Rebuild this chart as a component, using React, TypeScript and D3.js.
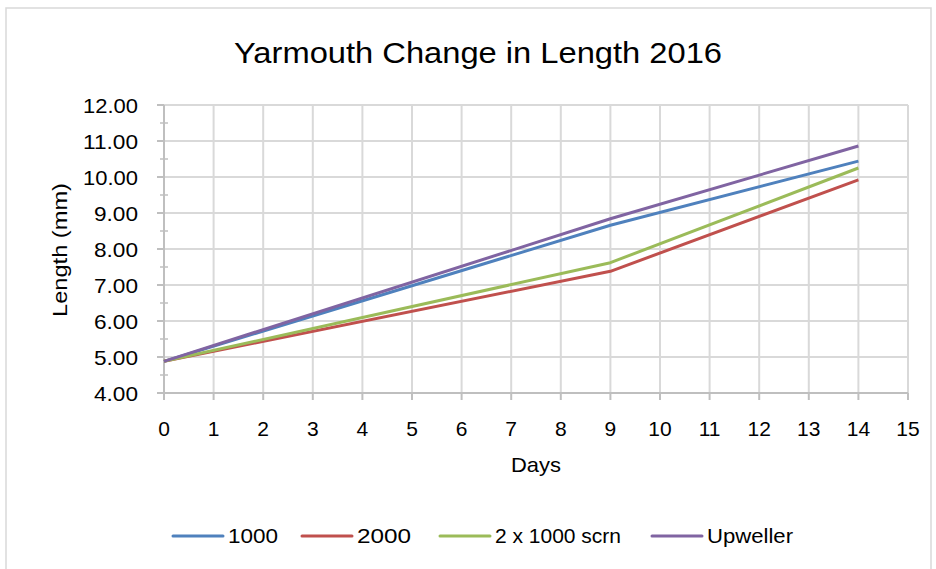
import React from 'react';
import { scaleLinear, line, range } from 'd3';

// chart values
const days = [0, 9, 14];
const series1000 = [4.88, 8.66, 10.44];
const series2000 = [4.88, 7.38, 9.92];
const seriesScrn = [4.88, 7.62, 10.25];
const seriesUpweller = [4.88, 8.84, 10.86];

const seriesNames = ['1000', '2000', '2 x 1000 scrn', 'Upweller'];
const seriesColors = ['#4F81BD', '#C0504D', '#9BBB59', '#8064A2'];
const yTicks = [4, 5, 6, 7, 8, 9, 10, 11, 12];
const xTicks = range(0, 16);

const W = 936;
const H = 569;
const font = "'Liberation Sans', Arial, sans-serif";

// legend layout: [line start, text width]
const legendPos = [[173, 50], [302, 54], [440, 126], [652, 86]];

export default function App() {
  const x = scaleLinear().domain([0, 15]).range([164, 908]);
  const y = scaleLinear().domain([4, 12]).range([393, 105]);

  const allSeries = [series1000, series2000, seriesScrn, seriesUpweller];
  const path = line<number>()
    .x((d, i) => x(days[i]))
    .y(d => y(d));

  const minor = range(4.5, 12, 1);

  return (
    <svg width={W} height={H} style={{ position: 'absolute', left: 0, top: 0, background: '#fff' }}>
      <rect x={6} y={8} width={925} height={580} fill="#fff" stroke="#d9d9d9" strokeWidth={1.5} />

      <text x={478} y={63} textAnchor="middle" fontFamily={font} fontSize={29}
        textLength={488} lengthAdjust="spacingAndGlyphs" fill="#000">Yarmouth Change in Length 2016</text>

      {/* grid */}
      {yTicks.filter(t => t > 4).map(t => (
        <line key={'gy' + t} x1={x(0)} x2={x(15)} y1={y(t)} y2={y(t)} stroke="#d9d9d9" strokeWidth={2} />
      ))}
      {xTicks.filter(t => t > 0).map(t => (
        <line key={'gx' + t} x1={x(t)} x2={x(t)} y1={y(12)} y2={y(4)} stroke="#d9d9d9" strokeWidth={2} />
      ))}

      {/* axes */}
      <line x1={x(0)} x2={x(0)} y1={y(12)} y2={y(4)} stroke="#bfbfbf" strokeWidth={2} />
      <line x1={x(0)} x2={x(15)} y1={y(4)} y2={y(4)} stroke="#bfbfbf" strokeWidth={2} />
      {yTicks.map(t => (
        <line key={'ty' + t} x1={x(0) - 7} x2={x(0)} y1={y(t)} y2={y(t)} stroke="#bfbfbf" strokeWidth={2} />
      ))}
      {minor.map(t => (
        <line key={'my' + t} x1={x(0) - 4} x2={x(0) + 4} y1={y(t)} y2={y(t)} stroke="#bfbfbf" strokeWidth={1.5} />
      ))}
      {xTicks.map(t => (
        <line key={'tx' + t} x1={x(t)} x2={x(t)} y1={y(4)} y2={y(4) + 7} stroke="#bfbfbf" strokeWidth={2} />
      ))}

      {yTicks.map(t => (
        <text key={'ly' + t} x={138} y={y(t)} dy="0.36em" textAnchor="end" fontFamily={font} fontSize={21} fill="#000"
          textLength={t >= 10 ? 55 : 44} lengthAdjust="spacingAndGlyphs">
          {t.toFixed(2)}
        </text>
      ))}
      {xTicks.map(t => (
        <text key={'lx' + t} x={x(t)} y={436} textAnchor="middle" fontFamily={font} fontSize={21} fill="#000">
          {t}
        </text>
      ))}

      <text x={536} y={472} textAnchor="middle" fontFamily={font} fontSize={21} fill="#000"
        textLength={50} lengthAdjust="spacingAndGlyphs">Days</text>
      <text transform="translate(67,250) rotate(-90)" textAnchor="middle" fontFamily={font} fontSize={21} fill="#000"
        textLength={134} lengthAdjust="spacingAndGlyphs">Length (mm)</text>

      {/* series */}
      {allSeries.map((s, i) => (
        <path key={'s' + i} d={path(s) || ''} fill="none" stroke={seriesColors[i]} strokeWidth={3} strokeLinejoin="round" />
      ))}

      {/* legend */}
      {seriesNames.map((n, i) => (
        <g key={'lg' + i}>
          <line x1={legendPos[i][0]} x2={legendPos[i][0] + 50} y1={536} y2={536} stroke={seriesColors[i]} strokeWidth={3} strokeLinecap="round" />
          <text x={legendPos[i][0] + 55} y={543} fontFamily={font} fontSize={20} fill="#000"
            textLength={legendPos[i][1]} lengthAdjust="spacingAndGlyphs">{n}</text>
        </g>
      ))}
    </svg>
  );
}
